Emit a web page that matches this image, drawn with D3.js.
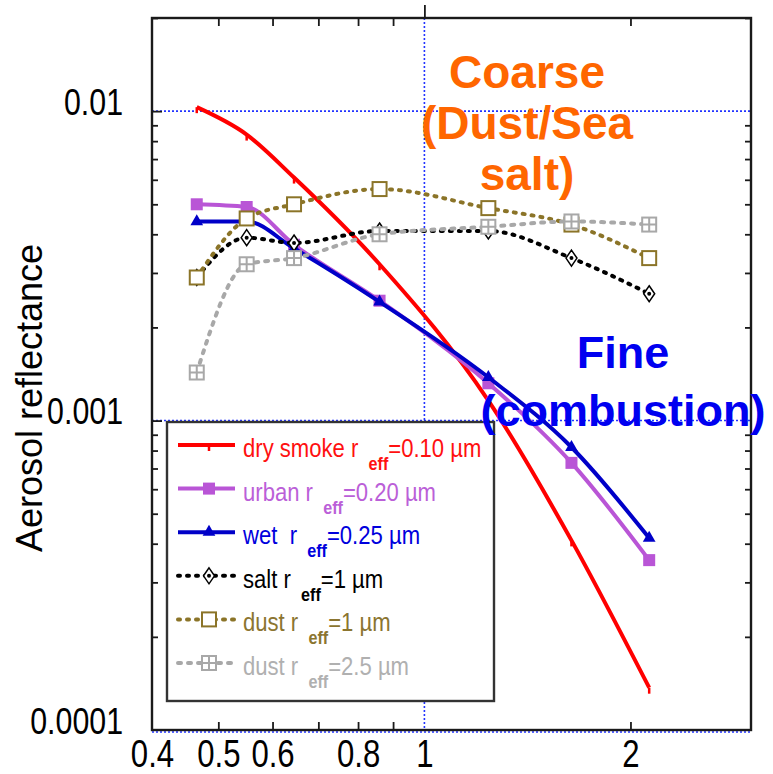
<!DOCTYPE html>
<html>
<head>
<meta charset="utf-8">
<script src="https://cdn.jsdelivr.net/npm/d3@7"></script>
<style>
  html, body { margin: 0; padding: 0; background: #fff; }
  svg { display: block; }
  .legend-text { white-space: pre; }
</style>
</head>
<body>
<div id="chart"></div>
<script>
// aerosol reflectance vs wavelength, log-log, six aerosol models

const BANDS     = [0.465, 0.55, 0.645, 0.86, 1.24, 1.64, 2.13];
const DRY_SMOKE = [0.0103, 0.0084, 0.0061, 0.0032, 0.00116, 0.00041, 0.000137];
const URBAN     = [0.0050, 0.0049, 0.0037, 0.00244, 0.00132, 0.00073, 0.000354];
const WET       = [0.0044, 0.0044, 0.0036, 0.00242, 0.00138, 0.00082, 0.000417];
const SALT      = [0.0029, 0.0039, 0.00375, 0.0041, 0.0041, 0.00335, 0.00257];
const DUST_1    = [0.0029, 0.0045, 0.0050, 0.0056, 0.00486, 0.0043, 0.00335];
const DUST_25   = [0.00143, 0.0032, 0.00335, 0.0040, 0.00423, 0.0044, 0.0043];

const LEGEND_NAMES = ['dry smoke r', 'urban r', 'wet  r', 'salt r', 'dust r', 'dust r'];
const LEGEND_REFF  = ['=0.10 µm', '=0.20 µm', '=0.25 µm', '=1 µm', '=1 µm', '=2.5 µm'];

const X_LABELS = [0.4, 0.5, 0.6, 0.8, 1, 2];
const X_MINOR  = [0.5, 0.6, 0.7, 0.8, 0.9, 2];
const Y_LABELS = [0.0001, 0.001, 0.01];

const SERIES = [
  { values: DRY_SMOKE, color: '#ff0000', text: '#ff1010', dash: null,  marker: 'tick' },
  { values: URBAN,     color: '#b955d6', text: '#bb5fd8', dash: null,  marker: 'square' },
  { values: WET,       color: '#0000c8', text: '#0000dd', dash: null,  marker: 'triangle' },
  { values: SALT,      color: '#000000', text: '#000000', dash: '2,7', marker: 'diamond' },
  { values: DUST_1,    color: '#8b7428', text: '#8b7530', dash: '2,7', marker: 'box' },
  { values: DUST_25,   color: '#a8a8a8', text: '#b0b0b0', dash: '3,7', marker: 'boxcross' },
];

const W = 773, H = 774;
const SQUEEZE = 0.82;   // no narrow font installed, so squeeze Liberation Sans instead
const font = "'Liberation Sans', Arial, sans-serif";

const svg = d3.select('#chart').append('svg')
  .attr('width', W).attr('height', H);

const x = d3.scaleLog().domain([0.4, 3]).range([152, 751]);
const y = d3.scaleLog().domain([0.0001, 0.02]).range([730, 18]);

const [x0, x1] = x.range();
const [y0, y1] = y.range();

// minor tick values 2..9 per decade
const yMinor = [];
[0.0001, 0.001, 0.01].forEach(d => {
  for (let k = 2; k <= 9; k++) if (d * k <= 0.02) yMinor.push(d * k);
});

// dotted blue grid lines
const grid = svg.append('g')
  .attr('stroke', '#2233ff')
  .attr('stroke-width', 1.6)
  .attr('stroke-dasharray', '2,2');

grid.selectAll('.gy')
  .data(Y_LABELS)
  .join('line')
  .attr('x1', x0).attr('x2', x1)
  .attr('y1', d => y(d) + (d === 0.0001 ? 2 : 0))
  .attr('y2', d => y(d) + (d === 0.0001 ? 2 : 0));

grid.append('line')
  .attr('x1', x(1)).attr('x2', x(1))
  .attr('y1', y1).attr('y2', y0);

// frame
svg.append('rect')
  .attr('x', x0).attr('y', y1)
  .attr('width', x1 - x0).attr('height', y0 - y1)
  .attr('fill', 'none')
  .attr('stroke', '#1a1a1a')
  .attr('stroke-width', 2.4);

function styleTicks(g) {
  g.select('.domain').remove();
  g.selectAll('.tick line').attr('stroke', '#1a1a1a').attr('stroke-width', 1.8);
}

// inward minor ticks on all four sides
svg.append('g')
  .attr('transform', `translate(0,${y0})`)
  .call(d3.axisBottom(x).tickValues(X_MINOR).tickSize(-8).tickFormat(''))
  .call(styleTicks);
svg.append('g')
  .attr('transform', `translate(0,${y1})`)
  .call(d3.axisTop(x).tickValues(X_MINOR).tickSize(-8).tickFormat(''))
  .call(styleTicks);
svg.append('g')
  .attr('transform', `translate(0,${y1})`)
  .call(d3.axisTop(x).tickValues([1]).tickSize(13).tickFormat(''))
  .call(styleTicks);
svg.append('g')
  .attr('transform', `translate(${x0},0)`)
  .call(d3.axisLeft(y).tickValues(yMinor).tickSize(-6).tickFormat(''))
  .call(styleTicks);
svg.append('g')
  .attr('transform', `translate(${x0},0)`)
  .call(d3.axisLeft(y).tickValues([0.001, 0.01]).tickSize(-10).tickFormat(''))
  .call(styleTicks);
svg.append('g')
  .attr('transform', `translate(${x1},0)`)
  .call(d3.axisRight(y).tickValues(yMinor).tickSize(-6).tickFormat(''))
  .call(styleTicks);

// tick labels
svg.append('g')
  .attr('transform', `translate(0,${y0})`)
  .call(d3.axisBottom(x).tickValues(X_LABELS).tickSize(0).tickFormat(d3.format('')))
  .call(g => g.select('.domain').remove())
  .selectAll('text')
  .attr('y', 10)
  .attr('transform', `scale(${SQUEEZE},1)`)
  .attr('font-family', font)
  .attr('font-size', 38)
  .attr('fill', '#000');

svg.append('g')
  .attr('transform', `translate(${x0},0)`)
  .call(d3.axisLeft(y).tickValues(Y_LABELS).tickSize(0)
    .tickFormat(d => d.toFixed(Math.round(-Math.log10(d)))))
  .call(g => g.select('.domain').remove())
  .selectAll('text')
  .attr('x', -29 / SQUEEZE)
  .attr('dy', 3)
  .attr('transform', `scale(${SQUEEZE},1)`)
  .attr('font-family', font)
  .attr('font-size', 37)
  .attr('fill', '#000');

svg.append('text')
  .attr('transform', `translate(42,${(y0 + y1) / 2 + 24}) rotate(-90)`)
  .attr('text-anchor', 'middle')
  .attr('font-family', font)
  .attr('font-size', 36)
  .attr('fill', '#000')
  .text('Aerosol reflectance');

// markers
function drawMarker(g, type, color) {
  if (type === 'tick') {
    g.append('line').attr('x1', 0).attr('x2', 0).attr('y1', 0).attr('y2', 6)
      .attr('stroke', color).attr('stroke-width', 2.5);
  } else if (type === 'square') {
    g.append('rect').attr('x', -6).attr('y', -6).attr('width', 12).attr('height', 12)
      .attr('fill', color);
  } else if (type === 'triangle') {
    g.append('path').attr('d', d3.symbol(d3.symbolTriangle, 70)()).attr('fill', color);
  } else if (type === 'diamond') {
    g.append('path').attr('d', 'M0,-8L5.5,0L0,8L-5.5,0Z')
      .attr('fill', '#fff').attr('stroke', color).attr('stroke-width', 1.5);
    g.append('circle').attr('r', 2).attr('fill', color);
  } else if (type === 'box') {
    g.append('rect').attr('x', -7).attr('y', -7).attr('width', 14).attr('height', 14)
      .attr('fill', '#fff').attr('stroke', color).attr('stroke-width', 2);
  } else if (type === 'boxcross') {
    g.append('rect').attr('x', -7).attr('y', -7).attr('width', 14).attr('height', 14)
      .attr('fill', '#fff').attr('stroke', color).attr('stroke-width', 2);
    g.append('path').attr('d', 'M0,-7V7M-7,0H7')
      .attr('stroke', color).attr('stroke-width', 2);
  }
}

const line = d3.line()
  .x(d => x(d[0]))
  .y(d => y(d[1]))
  .curve(d3.curveMonotoneX);

SERIES.forEach(s => {
  const pts = BANDS.map((b, i) => [b, s.values[i]]);
  svg.append('path')
    .datum(pts)
    .attr('d', line)
    .attr('fill', 'none')
    .attr('stroke', s.color)
    .attr('stroke-width', 4)
    .attr('stroke-linecap', s.dash ? 'round' : 'butt')
    .attr('stroke-dasharray', s.dash);
  svg.append('g')
    .selectAll('g')
    .data(pts)
    .join('g')
    .attr('transform', d => `translate(${x(d[0])},${y(d[1])})`)
    .each(function() { drawMarker(d3.select(this), s.marker, s.color); });
});

// legend
const legend = svg.append('g').attr('transform', 'translate(167,422)');
legend.append('rect')
  .attr('width', 327).attr('height', 279)
  .attr('fill', '#fff')
  .attr('stroke', '#333')
  .attr('stroke-width', 2.4);

SERIES.forEach((s, i) => {
  const row = legend.append('g').attr('transform', `translate(0,${35 + i * 43.6})`);
  row.append('line')
    .attr('x1', 11).attr('x2', 68).attr('y1', -12).attr('y2', -12)
    .attr('stroke', s.color)
    .attr('stroke-width', 4)
    .attr('stroke-linecap', s.dash ? 'round' : 'butt')
    .attr('stroke-dasharray', s.dash);
  drawMarker(row.append('g').attr('transform', 'translate(42,-12)'), s.marker, s.color);
  const t = row.append('text')
    .attr('class', 'legend-text')
    .attr('transform', 'translate(76,0) scale(0.85,1)')
    .attr('font-family', font)
    .attr('font-size', 26)
    .attr('fill', s.text);
  t.append('tspan').text(LEGEND_NAMES[i]);
  t.append('tspan').attr('dx', 12).attr('dy', 13)
    .attr('font-size', 19).attr('font-weight', 'bold').text('eff');
  t.append('tspan').attr('dy', -13).text(LEGEND_REFF[i]);
});

// annotations
const coarse = svg.append('text')
  .attr('text-anchor', 'middle')
  .attr('font-family', font)
  .attr('font-weight', 'bold')
  .attr('font-size', 46)
  .attr('fill', '#ff6600');
['Coarse', '(Dust/Sea', 'salt)'].forEach((t, i) => {
  coarse.append('tspan').attr('x', 527).attr('y', 88 + i * 51).text(t);
});

const fine = svg.append('text')
  .attr('text-anchor', 'middle')
  .attr('font-family', font)
  .attr('font-weight', 'bold')
  .attr('font-size', 45)
  .attr('fill', '#0000f0');
['Fine', '(combustion)'].forEach((t, i) => {
  fine.append('tspan').attr('x', 623).attr('y', 368 + i * 58).text(t);
});
</script>
</body>
</html>
